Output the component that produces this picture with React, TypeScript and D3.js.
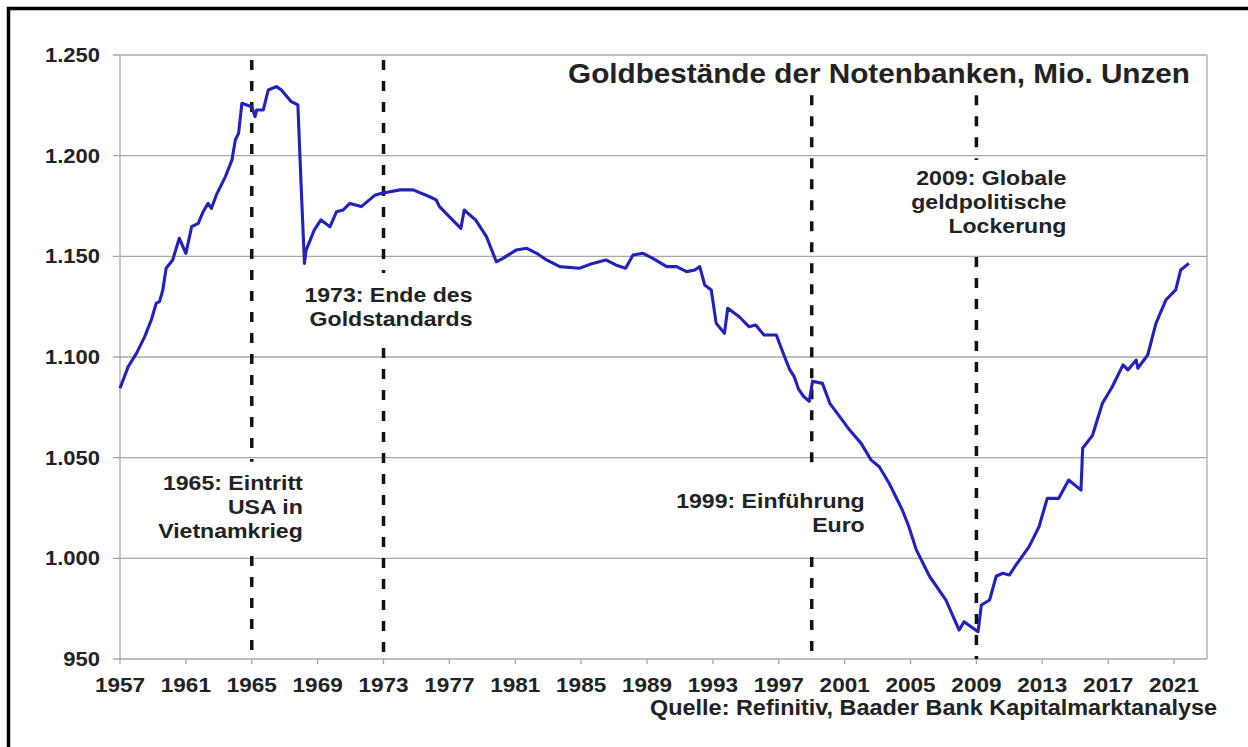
import React from "react";
import * as d3 from "d3";

// ---- data ----
const years = [
  1957.0, 1957.5, 1958.0, 1958.5, 1958.9, 1959.2, 1959.4, 1959.6, 1959.8, 1960.2,
  1960.6, 1961.0, 1961.35, 1961.75, 1962.05, 1962.35, 1962.55, 1962.85, 1963.4, 1963.8,
  1964.0, 1964.2, 1964.4, 1964.7, 1965.0, 1965.2, 1965.3, 1965.7, 1966.0, 1966.5,
  1966.8, 1967.4, 1967.8, 1968.0, 1968.2, 1968.3, 1968.8, 1969.2, 1969.75, 1970.15,
  1970.55, 1970.95, 1971.65, 1972.5, 1972.9, 1974.0, 1974.8, 1975.8, 1976.2, 1976.4,
  1977.2, 1977.7, 1977.9, 1978.6, 1979.25, 1979.85, 1980.25, 1981.05, 1981.7, 1982.3,
  1982.9, 1983.7, 1984.9, 1985.7, 1986.5, 1987.1, 1987.7, 1988.15, 1988.75, 1989.35,
  1990.2, 1990.8, 1991.4, 1991.9, 1992.2, 1992.5, 1992.9, 1993.2, 1993.7, 1993.9,
  1994.6, 1995.2, 1995.6, 1996.1, 1996.85, 1997.35, 1997.65, 1997.95, 1998.2, 1998.5,
  1998.85, 1999.05, 1999.65, 2000.1, 2000.7, 2001.3, 2002.0, 2002.6, 2003.1, 2003.7,
  2004.5, 2004.9, 2005.35, 2006.15, 2007.15, 2007.95, 2008.25, 2008.8, 2009.1, 2009.3,
  2009.8, 2010.2, 2010.6, 2011.0, 2011.4, 2012.2, 2012.8, 2013.3, 2014.0, 2014.6,
  2015.35, 2015.45, 2016.05, 2016.65, 2017.25, 2017.9, 2018.2, 2018.7, 2018.8, 2019.4,
  2019.9, 2020.5, 2021.1, 2021.4, 2021.9,
];
const values = [
  1084.5, 1095.2, 1101.8, 1110.1, 1118.4, 1126.7, 1127.5, 1133.3, 1144.1, 1148.2,
  1159.0, 1151.5, 1164.7, 1166.4, 1172.2, 1176.3, 1173.8, 1180.5, 1189.6, 1197.9,
  1207.8, 1211.1, 1226.0, 1225.2, 1224.3, 1219.4, 1222.7, 1222.7, 1232.6, 1234.3,
  1232.6, 1226.8, 1225.2, 1184.6, 1146.5, 1153.1, 1163.1, 1168.1, 1164.7, 1172.2,
  1173.0, 1176.3, 1174.7, 1180.5, 1181.3, 1183.0, 1183.0, 1179.6, 1178.0, 1174.7,
  1168.0, 1163.9, 1173.0, 1168.0, 1159.8, 1147.3, 1149.0, 1153.1, 1154.0, 1151.5,
  1148.2, 1144.9, 1144.1, 1146.5, 1148.2, 1145.7, 1144.1, 1150.7, 1151.5, 1149.0,
  1144.9, 1144.9, 1142.4, 1143.2, 1144.9, 1135.8, 1133.3, 1116.7, 1111.8, 1124.2,
  1120.0, 1115.0, 1115.9, 1110.9, 1110.9, 1100.1, 1094.0, 1090.0, 1084.0, 1080.5,
  1078.0, 1088.0, 1086.9, 1077.0, 1070.4, 1063.7, 1057.1, 1048.9, 1045.5, 1037.3,
  1024.0, 1015.7, 1004.2, 991.1, 979.3, 964.4, 968.5, 965.3, 963.6, 976.8,
  979.3, 991.1, 992.6, 991.7, 996.7, 1005.8, 1015.7, 1029.8, 1029.8, 1038.9,
  1033.9, 1054.7, 1061.1, 1077.0, 1085.2, 1096.1, 1093.6, 1098.5, 1094.4, 1101.0,
  1116.7, 1128.3, 1133.3, 1143.2, 1146.5,
];

const yTicks = [950, 1000, 1050, 1100, 1150, 1200, 1250];
const xTicks = [1957, 1961, 1965, 1969, 1973, 1977, 1981, 1985, 1989, 1993, 1997, 2001, 2005, 2009, 2013, 2017, 2021];
const xDomain = [1957, 2023];
const yDomain = [950, 1250];

const titleText = "Goldbestände der Notenbanken, Mio. Unzen";
const sourceText = "Quelle:  Refinitiv, Baader Bank Kapitalmarktanalyse";

const eventYears = [1965, 1973, 1999, 2009];
const eventLabels = [
  ["1965: Eintritt", "USA in", "Vietnamkrieg"],
  ["1973: Ende des", "Goldstandards"],
  ["1999: Einführung", "Euro"],
  ["2009: Globale", "geldpolitische", "Lockerung"],
];
const eventLineTop = [1247.5, 1247.5, 1230, 1230];
const eventGapTop = [1048, 1141.7, 1042.4, 1197.9];
const eventGapBottom = [1001.2, 1104.5, 1000.7, 1149.7];
const eventLabelValue = [1034, 1127.3, 1025, 1185.4];
const eventLabelDx = [51, 89, 53, 90];

// ---- layout ----
const W = 1248;
const H = 747;
const L = 120, R = 1207, T = 55, B = 659;
const SX = 1.1;
const FONT = "'Liberation Sans', Arial, Helvetica, sans-serif";
const TXT = "#222";

const deFormat = d3.formatLocale({ decimal: ",", thousands: ".", grouping: [3], currency: ["", "€"] }).format(",");

function Label({ x, y, anchor = "start", size = 20, children }: any) {
  return (
    <text
      transform={`translate(${x},${y}) scale(${SX},1)`}
      textAnchor={anchor}
      fontFamily={FONT}
      fontWeight="bold"
      fontSize={size}
      fill={TXT}
    >
      {children}
    </text>
  );
}

export default function App() {
  const x = d3.scaleLinear().domain(xDomain).range([L, R]);
  const y = d3.scaleLinear().domain(yDomain).range([B, T]);
  const pts = years.map((yr, i) => [yr, values[i]] as [number, number]);
  const line = d3.line<[number, number]>().x((d) => x(d[0])).y((d) => y(d[1]))(pts) || "";

  return (
    <svg
      width={W}
      height={H}
      style={{ position: "absolute", left: 0, top: 0, background: "#fff" }}
    >
      <rect x={0} y={0} width={W} height={H} fill="#fff" />
      {/* outer frame */}
      <rect x={8.5} y={8.5} width={W + 20} height={H + 20} fill="none" stroke="#000" strokeWidth={3.5} />

      {/* gridlines */}
      {yTicks.map((v) => (
        <line key={"g" + v} x1={L - 7} x2={R} y1={y(v)} y2={y(v)} stroke="#a8a8a8" strokeWidth={1.3} />
      ))}
      {/* plot frame sides */}
      <line x1={L} x2={L} y1={T} y2={B} stroke="#a8a8a8" strokeWidth={1.3} />
      <line x1={R} x2={R} y1={T} y2={B} stroke="#a8a8a8" strokeWidth={1.3} />
      {/* x ticks */}
      {xTicks.map((t) => (
        <line key={"xt" + t} x1={x(t)} x2={x(t)} y1={B} y2={B + 5} stroke="#a8a8a8" strokeWidth={1.3} />
      ))}

      {/* y labels */}
      {yTicks.map((v) => (
        <Label key={"yl" + v} x={100} y={y(v) + 7} anchor="end" size={20}>
          {deFormat(v)}
        </Label>
      ))}
      {/* x labels */}
      {xTicks.map((t) => (
        <Label key={"xl" + t} x={x(t)} y={692} anchor="middle" size={20.5}>
          {String(t)}
        </Label>
      ))}

      {/* event dashed lines */}
      {eventYears.map((yr, i) => (
        <g key={"ev" + yr}>
          <line
            x1={x(yr)} x2={x(yr)} y1={y(eventLineTop[i])} y2={y(eventGapTop[i])}
            stroke="#111" strokeWidth={3.5} strokeDasharray="10 11"
          />
          <line
            x1={x(yr)} x2={x(yr)} y1={y(eventGapBottom[i])} y2={B}
            stroke="#111" strokeWidth={3.5} strokeDasharray="10 11"
          />
          {eventLabels[i].map((s, j) => (
            <Label key={j} x={x(yr) + eventLabelDx[i]} y={y(eventLabelValue[i]) + j * 24} anchor="end" size={21}>
              {s}
            </Label>
          ))}
        </g>
      ))}

      {/* data line */}
      <path d={line} fill="none" stroke="#2222bb" strokeWidth={3.1} strokeLinejoin="round" />

      {/* title */}
      <Label x={1190} y={83} anchor="end" size={27}>
        {titleText}
      </Label>
      {/* source */}
      <Label x={1217} y={715} anchor="end" size={21.3}>
        {sourceText}
      </Label>
    </svg>
  );
}
